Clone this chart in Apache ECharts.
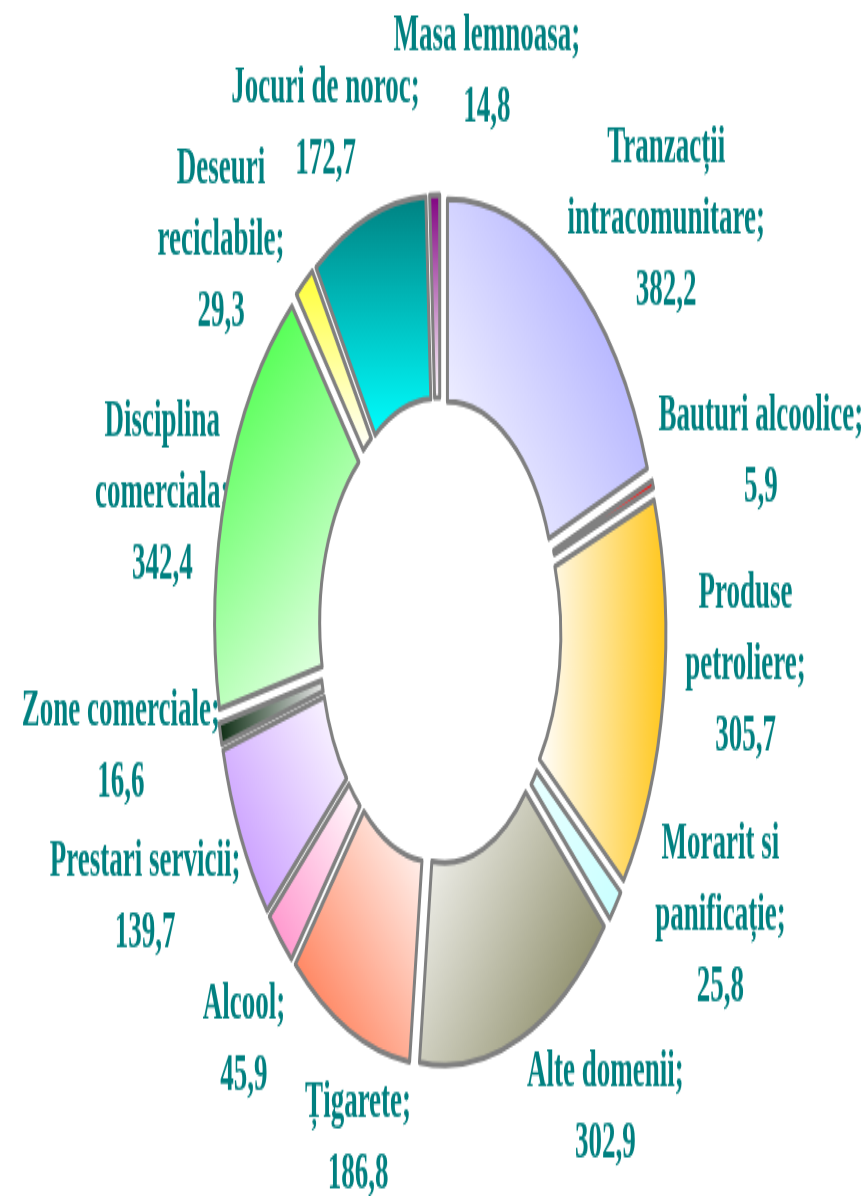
<!DOCTYPE html>
<html>
<head>
<meta charset="utf-8">
<script src="https://cdn.jsdelivr.net/npm/echarts@6/dist/echarts.min.js"></script>
<style>
  html, body { margin: 0; padding: 0; background: #fff; overflow: hidden; }
  #wrap { width: 866px; height: 1196px; overflow: hidden; }
  /* the original chart is stretched vertically, text included */
  #echart { width: 866px; height: 620px; transform: scaleY(1.929); transform-origin: 0 0; }
</style>
</head>
<body>
<div id="wrap"><div id="echart"></div></div>
<script>
// clockwise from 12 o'clock
var categories = [
  'Tranzacții\nintracomunitare',
  'Bauturi alcoolice',
  'Produse\npetroliere',
  'Morarit si\npanificație',
  'Alte domenii',
  'Țigarete',
  'Alcool',
  'Prestari servicii',
  'Zone comerciale',
  'Disciplina\ncomerciala',
  'Deseuri\nreciclabile',
  'Jocuri de noroc',
  'Masa lemnoasa'
];
var values = [382.2, 5.9, 305.7, 25.8, 302.9, 186.8, 45.9, 139.7, 16.6, 342.4, 29.3, 172.7, 14.8];

// gradient per slice: [x, y, x2, y2, colour at 0, colour at 1]
var fills = [
  [0, 1, 1, 0, '#ffffff', '#9c9cff'],
  [0, 0, 1, 0, '#ffb0b0', '#ff0000'],
  [0, 0, 1, 0, '#ffffff', '#ffc61a'],
  [0, 0, 1, 1, '#eaffff', '#c8ffff'],
  [0, 0, 1, 1, '#ffffff', '#7a7a50'],
  [1, 0, 0, 1, '#ffffff', '#ff6a3d'],
  [1, 0, 0, 1, '#ffffff', '#ff8cc8'],
  [1, 0, 0, 1, '#ffffff', '#c08cff'],
  [0, 0, 1, 0, '#0a2a10', '#e8e8e8'],
  [0, 0, 1, 1, '#33ff33', '#ffffff'],
  [0, 0, 0, 1, '#ffff33', '#ffffff'],
  [0, 0, 0, 1, '#008080', '#00ffff'],
  [0, 0, 0, 1, '#800080', '#ffffff']
];

var CX = 440, CY = 327, R_OUT = 213, R_IN = 108, OFFSET = 13, LABEL_GAP = 25;
var FONT_SIZE = 27, LINE_H = 37;
// hand moves of the labels, as in the original chart
var labelNudge = [
  [26, 38], [-12, 4], [-2, -29], [35, -45], [48, -22], [41, 0], [11, 9],
  [11, 4], [21, -8], [23, 29], [-30, 43], [-5, 11], [55, -2]
];

var total = values.reduce(function (a, b) { return a + b; }, 0);
var midAngles = [];
var cum = 0;
values.forEach(function (v) {
  midAngles.push((90 - (cum + v / 2) / total * 360) * Math.PI / 180);
  cum += v;
});

function fmt(v) { return v.toFixed(1).replace('.', ','); }
function labelText(i) { return categories[i] + ';\n' + fmt(values[i]); }

var ctx = document.createElement('canvas').getContext('2d');
ctx.font = 'bold ' + FONT_SIZE + 'px "Liberation Serif"';
function labelSize(i) {
  var lines = labelText(i).split('\n');
  var w = 0;
  lines.forEach(function (l) { w = Math.max(w, ctx.measureText(l).width); });
  return [w, lines.length * LINE_H];
}

// labels sit just outside each slice, along its middle angle
var labels = categories.map(function (name, i) {
  var a = midAngles[i];
  var ux = Math.cos(a), uy = -Math.sin(a);
  var r = R_OUT + OFFSET + LABEL_GAP;
  var s = labelSize(i);
  return {
    type: 'text',
    silent: true,
    x: CX + ux * r + ux * s[0] / 2 + labelNudge[i][0],
    y: CY + uy * r + uy * s[1] / 2 + labelNudge[i][1],
    style: {
      text: labelText(i),
      fill: '#008080',
      fontFamily: 'Liberation Serif',
      fontWeight: 'bold',
      fontSize: FONT_SIZE,
      lineHeight: LINE_H,
      align: 'center',
      verticalAlign: 'middle',
      textAlign: 'center',
      textVerticalAlign: 'middle'
    }
  };
});

var myChart = echarts.init(document.getElementById('echart'));

var option = {
  animation: false,
  graphic: labels,
  series: [{
    type: 'pie',
    center: [CX, CY],
    radius: [R_IN, R_OUT],
    startAngle: 90,
    clockwise: true,
    selectedMode: 'multiple',
    selectedOffset: OFFSET,
    emphasis: { disabled: true },
    itemStyle: { borderColor: '#808080', borderWidth: 3 },
    label: { show: false },
    labelLine: { show: false },
    data: categories.map(function (name, i) {
      var f = fills[i];
      return {
        name: name,
        value: values[i],
        selected: true,
        itemStyle: {
          color: new echarts.graphic.LinearGradient(f[0], f[1], f[2], f[3], [
            { offset: 0, color: f[4] },
            { offset: 1, color: f[5] }
          ])
        }
      };
    })
  }]
};

myChart.setOption(option);
</script>
</body>
</html>
